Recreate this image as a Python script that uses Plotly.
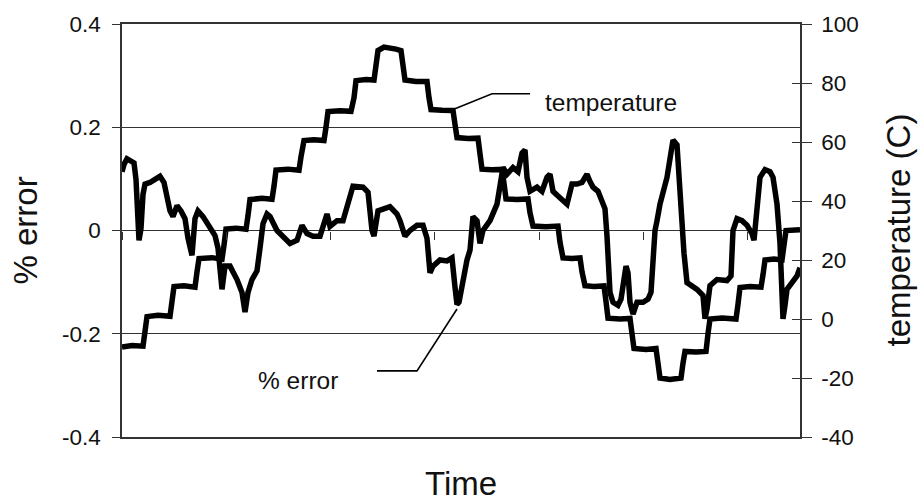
import plotly.graph_objects as go

# ---------------- data (time in arbitrary units, 0..678) ----------------
TEMP_TIME = [0, 10, 21, 23, 25, 36, 48, 50, 52, 62, 73, 75, 77, 90, 100, 102, 104, 114, 124, 126, 128,
             140, 150, 152, 154, 166, 177, 179, 182, 192, 202, 204, 206, 218, 229, 232, 234, 244, 252,
             254, 256, 262, 268, 274, 279, 281, 283, 294, 305, 307, 309, 320, 331, 333, 335, 346, 356,
             358, 360, 370, 380, 382, 384, 395, 406, 408, 411, 424, 436, 438, 441, 450, 458, 460, 463,
             472, 482, 484, 486, 498, 508, 510, 512, 524, 534, 536, 538, 548, 559, 561, 563, 574, 584,
             586, 588, 600, 614, 616, 618, 628, 639, 641, 643, 652, 660, 662, 664, 678]
TEMP_VALUES = [-9.5, -9.0, -9.2, -4, 0.8, 1.3, 0.9, 6, 11, 11.3, 10.8, 16, 20.5, 20.8, 20.3, 25, 30.5,
               30.8, 30.4, 35, 40.5, 40.9, 40.6, 45, 50.5, 50.8, 50.4, 55, 60.5, 60.8, 60.5, 65, 70.3,
               70.6, 70.4, 75, 80.8, 81.2, 81, 86, 91, 92.2, 92, 91.5, 91, 86, 81, 80.5, 80.5, 75, 71,
               70.8, 70.7, 66, 61.5, 61.2, 61.3, 56, 50.8, 50.6, 50.7, 46, 40.7, 40.5, 40.7, 36, 31.5,
               31.3, 31.5, 26, 20.7, 20.5, 20.7, 16, 11.3, 11, 11.2, 6, 0.3, 0, 0.2, -5, -10, -10.3, -10,
               -15, -20, -20.5, -20, -15, -11, -11.2, -11, -5, 0, 0.3, 0, 5, 10.7, 11, 10.8, 15, 20,
               20.3, 20, 25, 30, 30.3]

ERR_TIME = [0, 2, 5, 9, 12, 14, 16, 17, 19, 21, 23, 28, 33, 38, 42, 45, 48, 51, 55, 59, 63, 66, 70, 73,
            76, 81, 88, 93, 96, 98, 100, 103, 108, 115, 120, 123, 126, 130, 135, 138, 141, 145, 148,
            155, 161, 168, 175, 180, 185, 191, 198, 205, 208, 215, 221, 228, 231, 241, 246, 250, 252,
            256, 261, 268, 275, 278, 283, 288, 295, 301, 305, 308, 311, 318, 325, 330, 333, 335, 337,
            341, 345, 348, 351, 355, 358, 361, 368, 375, 378, 381, 385, 391, 396, 400, 403, 405, 408,
            415, 420, 425, 428, 431, 436, 441, 445, 450, 455, 460, 465, 468, 471, 476, 480, 483, 485,
            486, 488, 491, 496, 499, 501, 504, 506, 508, 511, 515, 521, 526, 529, 531, 533, 535, 538,
            545, 548, 551, 555, 558, 560, 562, 565, 575, 581, 583, 585, 588, 595, 605, 609, 611, 615,
            620, 625, 630, 632, 635, 638, 643, 648, 651, 655, 658, 660, 661, 663, 665, 670, 675, 678]
ERR_VALUES = [0.114, 0.128, 0.139, 0.133, 0.131, 0.099, 0.023, -0.019, 0.004, 0.070, 0.090, 0.093,
              0.099, 0.105, 0.093, 0.065, 0.038, 0.027, 0.048, 0.038, 0.023, -0.015, -0.048, 0.023,
              0.038, 0.027, 0.008, -0.010, -0.034, -0.078, -0.114, -0.069, -0.069, -0.095, -0.120,
              -0.158, -0.120, -0.095, -0.078, -0.034, 0.013, 0.032, 0.027, 0.0, -0.011, -0.025,
              -0.019, 0.010, -0.006, -0.011, -0.011, 0.032, 0.008, 0.019, 0.019, 0.070, 0.086, 0.084,
              0.074, 0.0, -0.011, 0.038, 0.042, 0.046, 0.032, 0.019, -0.011, 0.0, 0.010, 0.010,
              -0.015, -0.082, -0.069, -0.057, -0.059, -0.053, -0.110, -0.143, -0.139, -0.095, -0.057,
              -0.038, 0.027, 0.019, -0.025, 0.0, 0.019, 0.051, 0.090, 0.122, 0.109, 0.122, 0.114,
              0.150, 0.156, 0.103, 0.076, 0.084, 0.076, 0.103, 0.109, 0.076, 0.067, 0.057, 0.051,
              0.090, 0.090, 0.093, 0.109, 0.095, 0.084, 0.076, 0.057, 0.042, -0.011, -0.063, -0.120,
              -0.139, -0.145, -0.133, -0.101, -0.069, -0.082, -0.139, -0.162, -0.139, -0.139, -0.133,
              -0.120, -0.044, 0.0, 0.019, 0.051, 0.103, 0.147, 0.175, 0.166, 0.076, 0.0, -0.044,
              -0.101, -0.114, -0.126, -0.171, -0.152, -0.107, -0.095, -0.097, -0.088, 0.0, 0.023,
              0.019, 0.010, -0.006, -0.019, 0.051, 0.103, 0.118, 0.114, 0.103, 0.051, -0.025, -0.107,
              -0.171, -0.145, -0.114, -0.101, -0.088, -0.072]

# leader lines for the in-plot labels (left-axis units)
LEADER_TEMP_T = [333, 370, 408]
LEADER_TEMP_E = [0.236, 0.265, 0.265]
LEADER_ERR_T = [255, 295, 335]
LEADER_ERR_E = [-0.272, -0.272, -0.152]

LEFT_TICKS = [-0.4, -0.2, 0, 0.2, 0.4]
LEFT_LABELS = ["-0.4", "-0.2", "0", "0.2", "0.4"]
RIGHT_TICKS = [-40, -20, 0, 20, 40, 60, 80, 100]
RIGHT_LABELS = ["-40", "-20", "0", "20", "40", "60", "80", "100"]
TIME_TICKS = [0, 104.3, 208.6, 312.9, 417.2, 521.5, 625.8]
X_RANGE = [0, 678]

FONT = "Liberation Sans, Arial, sans-serif"
AX = "#333333"
INK = "#111111"

fig = go.Figure()

# invisible traces carrying the helper axes (zero-line time ticks, inner right ticks)
fig.add_trace(go.Scatter(x=[], y=[], xaxis="x2", yaxis="y", showlegend=False, hoverinfo="skip"))
fig.add_trace(go.Scatter(x=[], y=[], xaxis="x", yaxis="y3", showlegend=False, hoverinfo="skip"))

fig.add_trace(go.Scatter(x=TEMP_TIME, y=TEMP_VALUES, yaxis="y2", mode="lines",
                         line=dict(color="black", width=5.5), showlegend=False))
fig.add_trace(go.Scatter(x=ERR_TIME, y=ERR_VALUES, yaxis="y", mode="lines",
                         line=dict(color="black", width=5.5), showlegend=False))
fig.add_trace(go.Scatter(x=LEADER_TEMP_T, y=LEADER_TEMP_E, mode="lines",
                         line=dict(color="black", width=1.6), showlegend=False))
fig.add_trace(go.Scatter(x=LEADER_ERR_T, y=LEADER_ERR_E, mode="lines",
                         line=dict(color="black", width=1.6), showlegend=False))

fig.update_layout(
    width=922, height=504,
    margin=dict(l=122, r=122, t=17, b=67),
    paper_bgcolor="white", plot_bgcolor="white",
    font=dict(family=FONT, color=INK, size=22),
    xaxis=dict(range=X_RANGE, showgrid=False, zeroline=False, showline=True, linecolor=AX,
               linewidth=1.5, mirror=True, ticks="", showticklabels=False),
    xaxis2=dict(range=X_RANGE, overlaying="x", anchor="free", position=0.5, showgrid=False,
                zeroline=False, showline=False, tickmode="array", tickvals=TIME_TICKS,
                ticks="outside", ticklen=8, tickwidth=1, tickcolor=AX, showticklabels=False),
    yaxis=dict(range=[-0.4, 0.4], tickmode="array", tickvals=LEFT_TICKS, ticktext=LEFT_LABELS,
               ticks="outside", ticklen=8, tickwidth=1.3, tickcolor=AX, showline=True,
               linecolor=AX, linewidth=1.5, showgrid=True, gridcolor=AX, gridwidth=1.3,
               zeroline=False, ticklabelstandoff=7, tickfont=dict(size=22.5)),
    yaxis2=dict(range=[-40, 100], overlaying="y", side="right", tickmode="array",
                tickvals=RIGHT_TICKS, ticktext=RIGHT_LABELS, ticks="outside", ticklen=10,
                tickwidth=1.3, tickcolor=AX, showline=True, linecolor=AX, linewidth=1.5,
                showgrid=False, zeroline=False, ticklabelstandoff=5, tickfont=dict(size=22.5)),
    yaxis3=dict(range=[-40, 100], overlaying="y", side="right", tickmode="array",
                tickvals=RIGHT_TICKS, ticks="inside", ticklen=8, tickwidth=1.3, tickcolor=AX,
                showticklabels=False, showline=False, showgrid=False, zeroline=False),
    annotations=[
        dict(text="temperature", x=421, y=0.248, xref="x", yref="y", xanchor="left",
             yanchor="middle", showarrow=False, font=dict(size=24.5)),
        dict(text="% error", x=218, y=-0.29, xref="x", yref="y", xanchor="right",
             yanchor="middle", showarrow=False, font=dict(size=24.5)),
        dict(text="% error", x=0, y=0.5, xref="paper", yref="paper", xshift=-97,
             xanchor="center", yanchor="middle", textangle=-90, showarrow=False,
             font=dict(size=33)),
        dict(text="temperature (C)", x=1, y=0.5, xref="paper", yref="paper", xshift=98,
             xanchor="center", yanchor="middle", textangle=-90, showarrow=False,
             font=dict(size=33)),
        dict(text="Time", x=0.5, y=0, xref="paper", yref="paper", yshift=-46,
             xanchor="center", yanchor="middle", showarrow=False, font=dict(size=33)),
    ],
)

fig.write_html("out.html")
